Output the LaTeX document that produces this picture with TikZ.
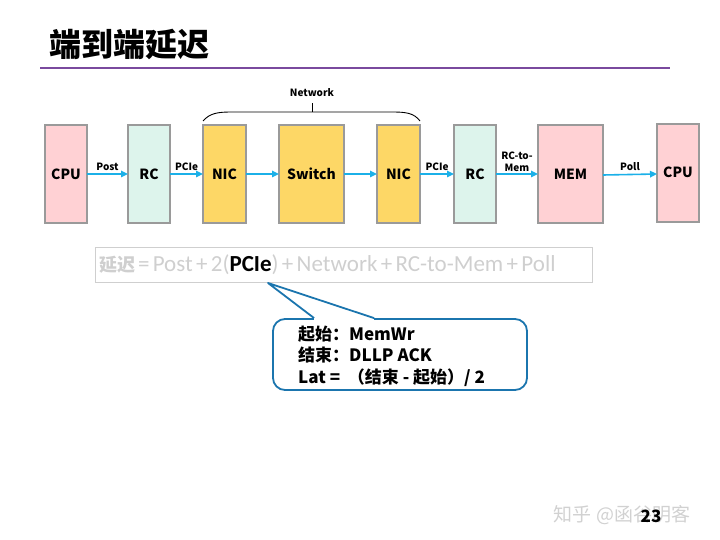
\documentclass[tikz,border=0pt]{standalone}
\usepackage{fontspec}
\setmainfont{Noto Sans CJK SC}
\newfontfamily\calfont{Carlito}
\usetikzlibrary{positioning, arrows.meta}

\definecolor{cpupink}{HTML}{FFD1D4}
\definecolor{rcmint}{HTML}{DDF4EC}
\definecolor{nicyellow}{HTML}{FDD766}
\definecolor{boxgray}{HTML}{9A9A9A}
\definecolor{linkblue}{HTML}{1BB0E8}
\definecolor{calloutblue}{HTML}{1B75AE}
\definecolor{titlepurple}{HTML}{7A4A9E}
\definecolor{formulagray}{HTML}{CFCFCF}

\begin{document}
\begin{tikzpicture}[
    x=1pt, y=-1pt,
    unit/.style={
        rectangle,
        draw=boxgray,
        line width=1.2pt,
        minimum height=98pt,
        inner sep=0pt,
        outer sep=0pt,
        font=\bfseries\fontsize{14}{16}\selectfont
    },
    cpubox/.style={unit, fill=cpupink, minimum width=42pt},
    membox/.style={unit, fill=cpupink, minimum width=65pt},
    rcbox/.style={unit, fill=rcmint, minimum width=42pt},
    nicbox/.style={unit, fill=nicyellow, minimum width=43pt},
    switchbox/.style={unit, fill=nicyellow, minimum width=65pt},
    flow/.style={
        line width=1.6pt,
        -{Triangle[length=7pt,width=6.5pt]},
        linkblue
    },
    tag/.style={
        text=black,
        font=\bfseries\fontsize{10}{11}\selectfont,
        above=2pt,
        inner sep=1pt
    }
]
\useasboundingbox (0,0) rectangle (720,540);

% Title and rule
\node[anchor=west, inner sep=0pt, font=\bfseries\fontsize{32}{34}\selectfont] (title) at (49,44) {端到端延迟};
\draw[titlepurple, line width=2.4pt] (40,68) -- (670,68);

% Data path boxes
\node[cpubox] (cpuA) at (66,174) {CPU};
\node[rcbox, right=41pt of cpuA] (rcA) {RC};
\node[nicbox, right=33pt of rcA] (nicA) {NIC};
\node[switchbox, right=33pt of nicA] (switch) {Switch};
\node[nicbox, right=33pt of switch] (nicB) {NIC};
\node[rcbox, right=34pt of nicB] (rcB) {RC};
\node[membox, right=42pt of rcB] (mem) {MEM};
\node[cpubox, right=54pt of mem, yshift=1pt] (cpuB) {\raisebox{2pt}{CPU}};

% Links
\draw[flow] (cpuA) -- node[tag] {Post} (rcA);
\draw[flow] (rcA) -- node[tag] {PCIe} (nicA);
\draw[flow] (nicA) -- (switch);
\draw[flow] (switch) -- (nicB);
\draw[flow] (nicB) -- node[tag] {PCIe} (rcB);
\draw[flow] (rcB) -- node[tag, align=center, above=1pt, font=\bfseries\fontsize{10}{12}\selectfont] {RC-to-\\Mem} (mem);
\draw[flow] ([yshift=-1pt]mem.east) -- node[tag] {Poll} ([yshift=-1pt]cpuB.west);

% Network brace
\draw[line width=0.9pt] ([yshift=4pt]nicA.north west) .. controls (210,113) and (218,112) .. (232,112)
    -- (392,112) .. controls (406,112) and (414,113) .. ([yshift=4pt]nicB.north east);
\draw[line width=0.9pt] (312,112) -- (312,103);
\node[font=\bfseries\fontsize{10}{11}\selectfont] (network) at (312,93) {Network};

% Latency formula
\node[draw=formulagray, line width=0.9pt, minimum width=497pt, minimum height=35pt,
      text width=489pt, inner xsep=4pt, align=left, text=formulagray] (formula) at (343.5,264.5)
    {\fontsize{18}{20}\selectfont\bfseries 延迟\,{\calfont\mdseries\fontsize{23}{24}\selectfont= Post + 2({\bfseries\color{black}PCIe}) + Network + RC-to-Mem + Poll}};
\coordinate (pcieTip) at (268,283);

% Callout
\node[draw=calloutblue, line width=1.8pt, rounded corners=12pt, fill=white,
      minimum width=254pt, minimum height=71pt] (note) at (400,354.5) {};
\fill[white] ([xshift=42pt,yshift=1.5pt]note.north west) rectangle ([xshift=102pt,yshift=-1.5pt]note.north west);
\draw[calloutblue, line width=1.8pt, line join=round] ([xshift=42pt]note.north west) -- (pcieTip) -- ([xshift=102pt]note.north west);
\node[anchor=west, align=left, inner sep=0pt, font=\bfseries\fontsize{17}{21.5}\selectfont] (notetext) at (298,356)
    {起始：MemWr\\结束：DLLP ACK\\Lat = \ （结束 - 起始）/ 2};

% Footer
\node[text=black!18, font=\fontsize{19}{21}\selectfont] (mark) at (622,515) {知乎 @函谷明客};
\node[font=\bfseries\fontsize{17}{19}\selectfont] (page) at (651,516) {23};
\end{tikzpicture}
\end{document}
